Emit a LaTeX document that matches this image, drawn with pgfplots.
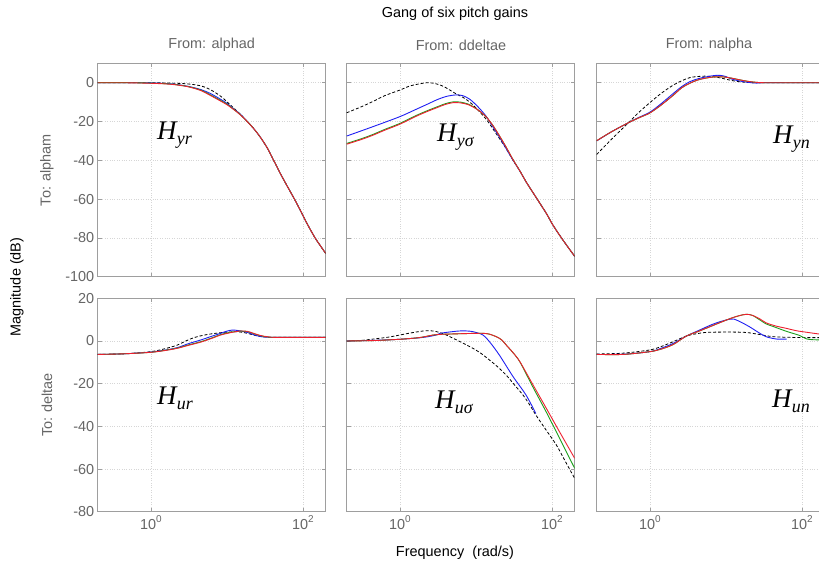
\documentclass[border=0pt]{standalone}
\usepackage{fontspec}
\setmainfont{Liberation Sans}
\newfontfamily\serifit{Liberation Serif}
\usepackage{pgfplots}
\pgfplotsset{compat=1.18}

\definecolor{framegray}{gray}{0.62}
\definecolor{labelgray}{gray}{0.40}
\definecolor{gridgray}{gray}{0.84}
\definecolor{mblue}{rgb}{0.12,0.12,0.95}
\definecolor{mred}{rgb}{0.93,0.12,0.18}
\definecolor{mgreen}{rgb}{0.10,0.62,0.10}

\newcommand{\lbl}{\fontsize{14.5}{17}\selectfont}
\newcommand{\Hlab}[1]{{\serifit\itshape\fontsize{27}{27}\selectfont H\kern0.3bp\raisebox{-5bp}{\fontsize{18}{18}\selectfont #1}}}
\newcommand{\ep}[1]{10\raisebox{1.0ex}{\fontsize{10}{10}\selectfont #1}}

\pgfplotsset{
  bode/.style={
    scale only axis, width=228bp, height=213.4bp,
    anchor=north west,
    xmin=0.2, xmax=200,
    xtick={1,100},
    xticklabels={},
    axis line style={framegray, line width=0.8bp},
    tick style={framegray, line width=0.6bp},
    tick align=inside, major tick length=4bp,
    xmajorgrids, ymajorgrids, grid style={dotted, gridgray, line width=0.6bp},
    ticklabel style={font=\lbl, text=labelgray},
    /pgf/number format/assume math mode=true,
    every axis plot/.append style={smooth, no markers, line width=0.9bp},
  },
  toprow/.style={ymin=-100, ymax=10, ytick={-100,-80,-60,-40,-20,0}},
  botrow/.style={ymin=-80, ymax=20, ytick={-80,-60,-40,-20,0,20},
    xticklabels={\ep{0},\ep{2}}},
  noy/.style={yticklabels={}},
}
\tikzset{kd/.style={black, densely dashed, line width=0.8bp}}

\begin{document}
\begin{tikzpicture}
\useasboundingbox (0,0) rectangle (819bp,-564bp);
\clip (0,0) rectangle (819bp,-564bp);

% ---------------- alphad -> alpham
\begin{semilogxaxis}[bode, toprow, at={(97.7bp,-63.3bp)}]
\addplot[kd] coordinates {(0.2,0)(0.501,0)(1,0)(1.82,-0.2)(3.02,-0.6)(4.52,-1.6)(6.03,-3.5)(8.32,-7)(10,-9.8)(12.3,-13)(15.1,-16.3)(18.6,-20)(22.4,-23.5)(27.5,-28)(33.9,-33.5)(40.7,-39.5)(50.1,-46.5)(61.7,-53)(77.6,-60)(93.3,-66)(115,-73)(145,-80)(170,-84)(200,-88)};
\addplot[mblue] coordinates {(0.2,0)(0.501,0)(1,-0.1)(1.82,-0.6)(3.02,-1.8)(4.52,-3.5)(6.03,-5.5)(8.32,-8.6)(10,-10.6)(12.3,-13.5)(15.1,-16.3)(18.6,-20)(22.4,-23.5)(27.5,-28)(33.9,-33.5)(40.7,-39.5)(50.1,-46.5)(61.7,-53)(77.6,-60)(93.3,-66)(115,-73)(145,-80)(170,-84)(200,-88)};
\addplot[mgreen] coordinates {(0.2,0)(0.501,0)(1,-0.2)(1.82,-0.7)(3.02,-1.9)(4.52,-3.8)(6.03,-6.2)(8.32,-9.2)(10,-11)(12.3,-13.7)(15.1,-16.5)(18.6,-20)(22.4,-23.5)(27.5,-28)(33.9,-33.5)(40.7,-39.5)(50.1,-46.5)(61.7,-53)(77.6,-60)(93.3,-66)(115,-73)(145,-80)(170,-84)(200,-88)};
\addplot[mred] coordinates {(0.2,0)(0.501,-0.05)(1,-0.3)(1.82,-0.8)(3.02,-2)(4.52,-4)(6.03,-6.5)(8.32,-9.5)(10,-11.3)(12.3,-13.8)(15.1,-16.6)(18.6,-20.1)(22.4,-23.5)(27.5,-28)(33.9,-33.5)(40.7,-39.5)(50.1,-46.5)(61.7,-53)(77.6,-60)(93.3,-66)(115,-73)(145,-80)(170,-84)(200,-88)};
\end{semilogxaxis}

% ---------------- ddeltae -> alpham
\begin{semilogxaxis}[bode, toprow, noy, at={(346.7bp,-63.3bp)}]
\addplot[kd] coordinates {(0.2,-15.5)(0.316,-12.3)(0.447,-9.6)(0.631,-6.7)(1,-3.8)(1.41,-1.5)(2.29,0)(3.02,-0.6)(3.80,-2)(5.37,-5.5)(7.08,-8)(8.91,-11)(11.2,-15)(13.8,-19)(16.6,-23.5)(20.4,-28.7)(25.1,-34)(30.9,-40)(38.0,-45.5)(45.7,-51)(56.2,-56.5)(69.2,-62)(85.1,-67.5)(102,-73)(126,-78.5)(158,-84)(200,-89.5)};
\addplot[mblue] coordinates {(0.2,-27.5)(0.447,-22.6)(1,-17.5)(1.58,-14)(2.24,-11.3)(3.16,-8.6)(4.17,-7)(5.50,-6.3)(6.76,-6.7)(8.32,-8.5)(9.12,-9.8)(11.2,-13.3)(13.8,-17.5)(16.6,-22.5)(20.4,-28)(25.1,-34)(30.9,-40)(38.0,-45.5)(45.7,-51)(56.2,-56.5)(69.2,-62)(85.1,-67.5)(102,-73)(126,-78.5)(158,-84)(200,-89.5)};
\addplot[mgreen] coordinates {(0.2,-31.3)(0.316,-28.8)(0.447,-26.6)(0.631,-24.1)(1,-21)(1.58,-17.2)(2.24,-14.6)(3.16,-12.3)(3.98,-10.8)(5.01,-9.9)(6.31,-10)(7.94,-11)(9.12,-12.2)(11.2,-14.6)(13.8,-17.8)(16.6,-21.8)(20.4,-27.3)(25.1,-33.3)(30.9,-39.7)(38.0,-45.5)(45.7,-51)(56.2,-56.5)(69.2,-62)(85.1,-67.5)(102,-73)(126,-78.5)(158,-84)(200,-89.5)};
\addplot[mred] coordinates {(0.2,-31.7)(0.316,-29.2)(0.447,-27)(0.631,-24.5)(1,-21.4)(1.58,-17.6)(2.24,-15)(3.16,-12.7)(3.98,-11.2)(5.01,-10.3)(6.31,-10.4)(7.94,-11.3)(9.12,-12.4)(11.2,-14.6)(13.8,-17.8)(16.6,-21.8)(20.4,-27.3)(25.1,-33.3)(30.9,-39.7)(38.0,-45.5)(45.7,-51)(56.2,-56.5)(69.2,-62)(85.1,-67.5)(102,-73)(126,-78.5)(158,-84)(200,-89.5)};
\end{semilogxaxis}

% ---------------- nalpha -> alpham
\begin{semilogxaxis}[bode, toprow, noy, at={(596.7bp,-63.3bp)}]
\addplot[kd] coordinates {(0.2,-37)(0.316,-29)(0.525,-20.6)(0.708,-15.5)(1,-10.3)(1.41,-5.5)(2.04,-1.2)(2.63,1)(3.35,2.6)(4.27,3.2)(5.50,3.4)(7.08,3)(9.12,2.2)(11.7,1.2)(15.1,0.5)(19.5,0.15)(25.1,0)(60,0)(200,0)};
\addplot[mblue] coordinates {(0.2,-30)(0.316,-25.2)(0.525,-20.6)(0.708,-18)(1,-15.2)(1.41,-10.8)(2.04,-5.5)(2.63,-2)(3.35,0.5)(4.27,2)(5.50,3)(7.08,3.7)(8.32,3.8)(10,3.2)(11.7,2)(15.1,0.9)(19.5,0.2)(25.1,-0.2)(31.6,0)(60,0)(200,0)};
\addplot[mgreen] coordinates {(0.2,-29.9)(0.316,-25.2)(0.525,-20.6)(0.708,-18.2)(1,-15.6)(1.41,-11.5)(2.04,-6.4)(2.63,-2.6)(3.35,-0.3)(4.27,1.4)(5.50,2.4)(7.08,3)(9.12,3)(11.7,2.4)(15.1,1.5)(19.5,0.7)(25.1,0.2)(31.6,0)(60,0)(200,0)};
\addplot[mred] coordinates {(0.2,-29.9)(0.316,-25.2)(0.525,-20.6)(0.708,-18.2)(1,-15.6)(1.41,-11.5)(2.04,-6.4)(2.63,-2.6)(3.35,-0.3)(4.27,1.4)(5.50,2.4)(7.08,3)(9.12,3)(11.7,2.4)(15.1,1.5)(19.5,0.7)(25.1,0.2)(31.6,0)(60,0)(200,0)};
\end{semilogxaxis}

% ---------------- alphad -> deltae
\begin{semilogxaxis}[bode, botrow, at={(97.7bp,-298.3bp)}]
\addplot[kd] coordinates {(0.2,-6.3)(0.447,-6)(1,-5)(1.58,-3.5)(2.24,-1.9)(2.88,0)(3.72,1.6)(4.79,2.6)(6.17,3.3)(8.91,4.0)(12.3,4.3)(15.1,4.2)(18.6,3.6)(22.4,2.8)(27.5,2.1)(33.9,1.8)(41.7,1.7)(80,1.7)(200,1.7)};
\addplot[mblue] coordinates {(0.2,-6.3)(0.447,-6)(1,-5.2)(1.58,-4.2)(2.24,-3.1)(3.16,-1.2)(4.57,0.5)(6.31,2.2)(8.32,3.6)(10,4.6)(11.7,5.1)(14.1,4.9)(18.6,4)(22.4,3)(27.5,2.1)(33.9,1.8)(41.7,1.7)(80,1.7)(200,1.7)};
\addplot[mgreen] coordinates {(0.2,-6.3)(0.447,-6)(1,-5.3)(1.58,-4.3)(2.24,-3.3)(3.16,-1.8)(4.57,-0.3)(6.31,1.4)(8.32,3.0)(11.2,4.1)(15.1,4.6)(18.6,4.4)(22.4,3.5)(27.5,2.5)(33.9,1.9)(41.7,1.7)(80,1.7)(200,1.7)};
\addplot[mred] coordinates {(0.2,-6.3)(0.447,-6)(1,-5.3)(1.58,-4.4)(2.24,-3.4)(3.16,-2)(4.57,-0.5)(6.31,1.2)(8.32,2.8)(11.2,3.9)(15.1,4.7)(18.6,4.5)(22.4,3.6)(27.5,2.6)(33.9,2)(41.7,1.7)(80,1.7)(200,1.7)};
\end{semilogxaxis}

% ---------------- ddeltae -> deltae
\begin{semilogxaxis}[bode, botrow, noy, at={(346.7bp,-298.3bp)}]
\addplot[kd] coordinates {(0.2,0)(0.316,0.3)(0.447,0.9)(0.708,1.8)(1,2.8)(1.41,3.8)(2.04,4.7)(2.51,4.8)(3.02,4.4)(3.80,3.3)(5.01,1.3)(6.76,-1)(9.12,-3.4)(11.7,-5.8)(15.1,-8.9)(19.5,-12.2)(25.1,-16)(31.6,-20.2)(41.7,-25.3)(51.3,-30)(61.7,-34.7)(83.2,-41.5)(115,-48.8)(151,-56.5)(200,-64.4)};
\addplot[mblue] coordinates {(0.2,0)(0.447,0.3)(1,0.8)(2.04,1.7)(3.02,2.8)(3.39,3.6)(5.01,4.4)(6.17,4.7)(7.59,4.7)(9.12,4.4)(10.5,3.8)(12.4,2.8)(15.1,-0.3)(20.4,-6.6)(30.9,-16.7)(45.7,-25.3)(61.7,-34)};
\addplot[mgreen] coordinates {(0.2,0)(0.447,0.2)(1,0.8)(1.82,1.6)(2.75,2.8)(3.39,3.1)(5.01,3.3)(7.94,3.5)(12.3,3.6)(15.1,3.2)(18.6,2.0)(21.9,0.5)(25.1,-1.9)(30.9,-5.5)(38.0,-9.8)(56.2,-21.5)(85.1,-33.5)(126,-45.5)(200,-59.7)};
\addplot[mred] coordinates {(0.2,0)(0.447,0.2)(1,0.8)(1.82,1.6)(2.75,2.8)(3.39,3.1)(5.01,3.3)(7.94,3.5)(12.3,3.6)(15.1,3.2)(18.6,2.0)(21.9,0.5)(25.1,-1.9)(30.9,-5.5)(38.0,-9.7)(56.2,-20.4)(85.1,-31.7)(126,-42.5)(200,-55)};
\end{semilogxaxis}

% ---------------- nalpha -> deltae
\begin{semilogxaxis}[bode, botrow, noy, at={(596.7bp,-298.3bp)}]
\addplot[kd] coordinates {(0.2,-6.1)(0.447,-5.7)(1,-4.2)(1.41,-2.6)(2.04,-0.3)(3.02,2.3)(4.27,3.5)(6.17,4.1)(16.6,4.1)(25.1,3.3)(42.7,2.0)(100,1.6)(200,1.6)};
\addplot[mblue] coordinates {(0.2,-6.3)(0.447,-6.2)(1,-5)(1.41,-3.4)(2.04,-1.1)(3.02,2.3)(4.57,5.2)(6.46,7.6)(8.32,9.0)(11.2,10.2)(12.6,10.3)(15.1,9.2)(20.4,6.7)(26.9,4.0)(33.9,2.0)(46.8,0.9)(63,0.9)};
\addplot[mgreen] coordinates {(0.2,-6.3)(0.447,-6.3)(1,-5.0)(1.41,-3.8)(2.04,-1.6)(3.02,2.3)(4.57,4.8)(7.59,8)(11.2,10.4)(14.8,11.8)(18.6,12.5)(22.4,12)(28.2,9.8)(33.9,8.0)(42.7,6.7)(63,4.5)(93.3,2.6)(115,1.0)(140,0.6)(200,0.5)};
\addplot[mred] coordinates {(0.2,-6.3)(0.447,-6.3)(1,-5.0)(1.41,-3.8)(2.04,-1.6)(3.02,2.3)(4.57,4.8)(7.59,8)(11.2,10.4)(14.8,11.8)(18.6,12.5)(22.4,12)(28.2,10.3)(33.9,8.5)(45.7,7.0)(63,5.9)(85,4.8)(115,4.1)(166,3.3)(200,3.0)};
\end{semilogxaxis}

% ---------------- titles and labels
\node[font=\lbl, text=black] at (455bp,-14bp) {Gang of six pitch gains};
\node[font=\lbl, text=labelgray] at (211.7bp,-45bp) {From: alphad};
\node[font=\lbl, text=labelgray] at (461bp,-45bp) {From: ddeltae};
\node[font=\lbl, text=labelgray] at (709bp,-45bp) {From: nalpha};
\node[font=\lbl, text=labelgray, rotate=90] at (47bp,-170bp) {To: alpham};
\node[font=\lbl, text=labelgray, rotate=90] at (47bp,-405bp) {To: deltae};
\node[font=\lbl, text=black, rotate=90] at (17bp,-287bp) {Magnitude (dB)};
\node[font=\lbl, text=black] at (455bp,-553bp) {Frequency\ \ (rad/s)};

\node[anchor=base west, inner sep=0] at (157bp,-139bp) {\Hlab{yr}};
\node[anchor=base west, inner sep=0] at (437bp,-141bp) {\Hlab{yσ}};
\node[anchor=base west, inner sep=0] at (773bp,-143bp) {\Hlab{yn}};
\node[anchor=base west, inner sep=0] at (157bp,-404bp) {\Hlab{ur}};
\node[anchor=base west, inner sep=0] at (435bp,-408bp) {\Hlab{uσ}};
\node[anchor=base west, inner sep=0] at (772bp,-407bp) {\Hlab{un}};
\end{tikzpicture}
\end{document}
